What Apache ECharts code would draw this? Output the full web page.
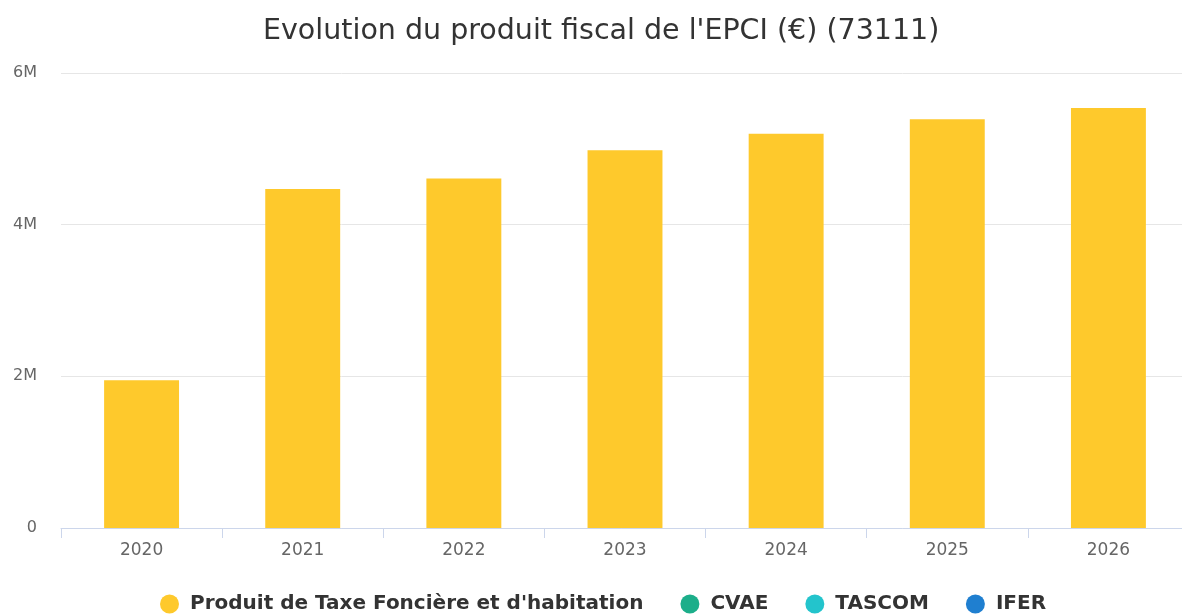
<!DOCTYPE html>
<html>
<head>
<meta charset="utf-8">
<script src="https://cdn.jsdelivr.net/npm/echarts@6/dist/echarts.min.js"></script>
<style>
  html, body { margin: 0; padding: 0; background: #fff; }
  #chart { width: 1182px; height: 614px; }
</style>
</head>
<body>
<div id="chart"></div>
<script>
var years = ["2020", "2021", "2022", "2023", "2024", "2025", "2026"];
var taxeFonciere = [1950000, 4470000, 4610000, 4980000, 5200000, 5390000, 5540000];
var cvae = [0, 0, 0, 0, 0, 0, 0];
var tascom = [0, 0, 0, 0, 0, 0, 0];
var ifer = [0, 0, 0, 0, 0, 0, 0];
var yTicks = [0, 2000000, 4000000, 6000000];

var myChart = echarts.init(document.getElementById("chart"));

function serie(name, data, color) {
    return {
        name: name,
        type: "bar",
        stack: "total",
        data: data,
        barWidth: "46.5%",
        itemStyle: { color: color },
        emphasis: { disabled: true }
    };
}

var option = {
    animation: false,
    textStyle: { fontFamily: "DejaVu Sans" },
    title: {
        text: "Evolution du produit fiscal de l'EPCI (€) (73111)",
        left: 258,
        top: 12,
        textStyle: { fontSize: 28.5, fontWeight: "normal", color: "#333333", fontFamily: "DejaVu Sans" }
    },
    legend: {
        bottom: -5,
        left: 155,
        icon: "circle",
        itemWidth: 19,
        itemHeight: 19,
        itemGap: 37,
        textStyle: { fontSize: 20, fontWeight: "bold", color: "#333333", fontFamily: "DejaVu Sans", padding: [0, 0, 0, 6] },
        data: ["Produit de Taxe Foncière et d'habitation", "CVAE", "TASCOM", "IFER"]
    },
    grid: { left: 61, width: 1128, top: 73, bottom: 86, containLabel: false, outerBoundsMode: "none" },
    xAxis: {
        type: "category",
        data: years,
        axisLine: { lineStyle: { color: "#ccd6eb" } },
        axisTick: { show: true, length: 10, lineStyle: { color: "#ccd6eb" } },
        axisLabel: { color: "#666666", fontSize: 17, margin: 14 }
    },
    yAxis: {
        type: "value",
        min: yTicks[0],
        max: yTicks[yTicks.length - 1],
        interval: 2000000,
        axisLine: { show: false },
        axisTick: { show: false },
        splitLine: { lineStyle: { color: "#e6e6e6" } },
        axisLabel: {
            color: "#666666",
            fontSize: 16,
            margin: 24,
            padding: [4, 0, 0, 0],
            formatter: function (v) { return v === 0 ? "0" : (v / 1000000) + "M"; }
        }
    },
    series: [
        serie("Produit de Taxe Foncière et d'habitation", taxeFonciere, "#fec92c"),
        serie("CVAE", cvae, "#1cae8a"),
        serie("TASCOM", tascom, "#23c4cc"),
        serie("IFER", ifer, "#1f7fd0")
    ]
};
myChart.setOption(option);
</script>
</body>
</html>
